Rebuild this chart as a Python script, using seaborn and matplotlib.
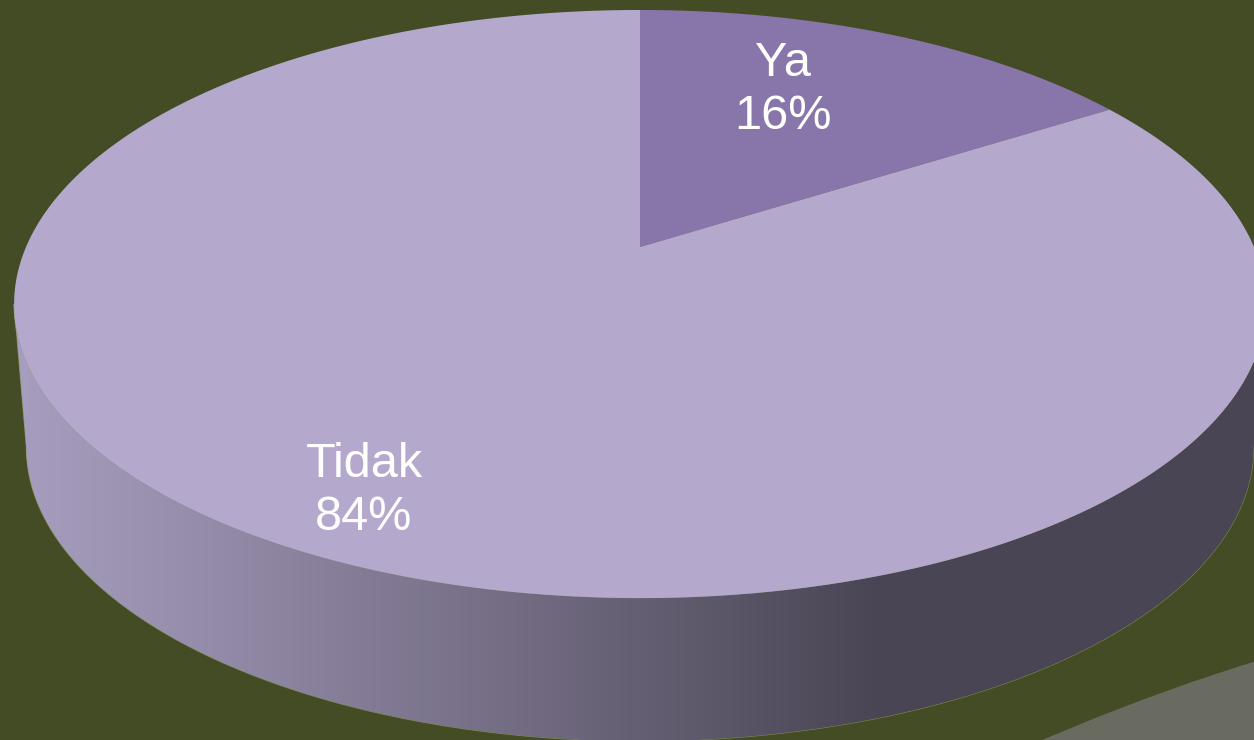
import numpy as np
import matplotlib.pyplot as plt
import seaborn as sns
from matplotlib.patches import Polygon, Circle
from matplotlib.colors import to_rgb

# data
labels = ["Ya", "Tidak"]
values = [16, 84]
slice_colors = ["#8876AA", "#B4A9CD"]

sns.set_theme(style="white")
plt.rcParams['font.family'] = ['Liberation Sans', 'DejaVu Sans']

bg = "#444C25"
fig = plt.figure(figsize=(12.54, 7.40), dpi=100)
fig.patch.set_facecolor(bg)
ax = fig.add_axes([0, 0, 1, 1])
ax.set_facecolor(bg)
ax.set_xlim(0, 1254)
ax.set_ylim(740, 0)
ax.axis('off')

# pie geometry (pixel space, simple perspective)
cx, cy = 640, 247
sx, sy, k = 614, 283, 0.194
sx_bottom = 602
depth = 143


def proj(theta, r=1.0, scale_x=sx, dy=0.0):
    X = r * np.cos(theta)
    Y = r * np.sin(theta)
    d = 1 + k * Y
    return cx + scale_x * X / d, cy + dy - sy * Y / d


# grey shape in the corner
ax.add_patch(Circle((1879, 2676), 2109, facecolor="#6A6B60", edgecolor="none", zorder=1))

# wedge angles, starting at 12 o'clock, clockwise
fracs = np.array(values) / np.sum(values)
starts = np.pi / 2 - 2 * np.pi * np.concatenate([[0], np.cumsum(fracs)[:-1]])
ends = starts - 2 * np.pi * fracs

# front side of the pie
front_lo = np.pi + np.arcsin(k)
front_hi = 2 * np.pi - np.arcsin(k)
for s, e, col in zip(starts, ends, slice_colors):
    a0, a1 = np.mod(e, 2 * np.pi), np.mod(s, 2 * np.pi)
    if a1 <= a0:
        a1 += 2 * np.pi
    for shift in (0, 2 * np.pi):
        lo = max(a0, front_lo + shift)
        hi = min(a1, front_hi + shift)
        if hi <= lo:
            continue
        t = np.linspace(lo, hi, 300)
        xs, ys = proj(t)
        bx, by = proj(t, scale_x=sx_bottom, dy=depth)
        px = np.concatenate([xs, bx[::-1]])
        py = np.concatenate([ys, by[::-1]])
        poly = Polygon(np.column_stack([px, py]), closed=True, facecolor="none",
                       edgecolor="#7F8A4A", lw=0.8, zorder=2)
        ax.add_patch(poly)
        base = np.array(to_rgb(col))
        gx = np.linspace(0, 1254, 600)
        fac = np.interp(gx, [14, 200, 450, 880, 1254], [0.93, 0.83, 0.68, 0.41, 0.41])
        grad = np.clip(base[None, :] * fac[:, None], 0, 1)[None, :, :]
        im = ax.imshow(grad, extent=[0, 1254, 740, 0], aspect='auto', zorder=2,
                       interpolation='bilinear')
        im.set_clip_path(poly)

# top face
for s, e, col in zip(starts, ends, slice_colors):
    t = np.linspace(s, e, 400)
    xs, ys = proj(t)
    pts = np.column_stack([np.r_[cx, xs], np.r_[cy, ys]])
    ax.add_patch(Polygon(pts, closed=True, facecolor=col, edgecolor="none", zorder=3))

# labels
label_pos = [(783, 90), (364, 491)]
for lab, v, (lx, ly) in zip(labels, values, label_pos):
    ax.text(lx, ly, f"{lab}\n{v}%", color="white", fontsize=35, ha="center",
            va="center", linespacing=1.24, zorder=4)

fig.savefig("out.png", dpi=100, facecolor=bg)
